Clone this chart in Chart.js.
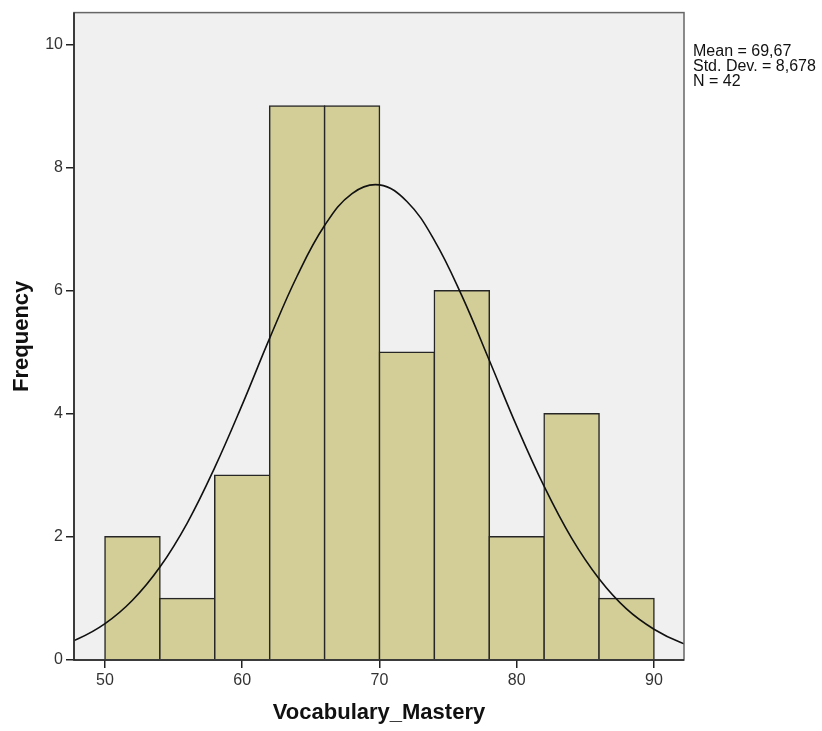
<!DOCTYPE html>
<html>
<head>
<meta charset="utf-8">
<script src="https://cdn.jsdelivr.net/npm/chart.js@4"></script>
<style>
  html, body { margin: 0; padding: 0; background: #fff; }
  #wrap { width: 822px; height: 731px; }
</style>
</head>
<body>
<div id="wrap"><canvas id="histo"></canvas></div>
<script>
// histogram bins (width 4)
const binCenters = [52, 56, 60, 64, 68, 72, 76, 80, 84, 88];
const binCounts = [2, 1, 3, 9, 9, 5, 6, 2, 4, 1];

// normal curve (ends run past the frame and get clipped)
const curveX = [46, 48, 50, 52, 54, 56, 58, 60, 62, 64, 66, 68, 70, 72, 74, 76, 78, 80, 82, 84, 86, 88, 90, 92, 94];
const curveY = [0.19, 0.34, 0.59, 0.97, 1.51, 2.23, 3.13, 4.15, 5.23, 6.24, 7.06, 7.58, 7.72, 7.45, 6.82, 5.92, 4.87, 3.80, 2.82, 1.98, 1.32, 0.83, 0.50, 0.28, 0.15];

const xTicks = [50, 60, 70, 80, 90];
const yTicks = [0, 2, 4, 6, 8, 10];
const statLines = ['Mean = 69,67', 'Std. Dev. = 8,678', 'N = 42'];

const font = "'Liberation Sans', Arial, sans-serif";

// plot background, frame and the stats text
const framePlugin = {
    id: 'frame',
    beforeDatasetsDraw(chart) {
        const { ctx, chartArea: a } = chart;
        ctx.save();
        ctx.fillStyle = '#f0f0f0';
        ctx.fillRect(a.left, a.top, a.right - a.left, a.bottom - a.top);
        ctx.restore();
    },
    afterDraw(chart) {
        const { ctx, chartArea: a } = chart;
        ctx.save();
        ctx.strokeStyle = '#666';
        ctx.lineWidth = 1.5;
        ctx.strokeRect(a.left, a.top, a.right - a.left, a.bottom - a.top);
        ctx.strokeStyle = '#222';
        ctx.beginPath();
        ctx.moveTo(a.left, a.top);
        ctx.lineTo(a.left, a.bottom);
        ctx.lineTo(a.right, a.bottom);
        ctx.stroke();

        ctx.fillStyle = '#111';
        ctx.font = '16px ' + font;
        ctx.textBaseline = 'middle';
        statLines.forEach((t, i) => ctx.fillText(t, a.right + 9, 52 + i * 15));
        ctx.restore();
    }
};

const ctx = document.getElementById('histo').getContext('2d');

new Chart(ctx, {
    data: {
        datasets: [{
            type: 'bar',
            data: binCenters.map((c, i) => ({ x: c, y: binCounts[i] })),
            backgroundColor: '#d3ce97',
            borderColor: '#262626',
            borderWidth: 1.5,
            inflateAmount: 0.8,
            barPercentage: 1,
            categoryPercentage: 1,
            order: 2
        }, {
            type: 'scatter',
            data: curveX.map((x, i) => ({ x: x, y: curveY[i] })),
            showLine: true,
            borderColor: '#111',
            borderWidth: 1.6,
            pointRadius: 0,
            tension: 0.4,
            order: 1
        }]
    },
    options: {
        responsive: true,
        maintainAspectRatio: false,
        animation: false,
        layout: { padding: { left: 0, right: 138, top: 12, bottom: 0 } },
        plugins: {
            legend: { display: false },
            tooltip: { enabled: false }
        },
        scales: {
            x: {
                type: 'linear',
                offset: false,
                min: 47.74,
                max: 92.19,
                afterBuildTicks: (scale) => { scale.ticks = xTicks.map(v => ({ value: v })); },
                afterFit: (scale) => { scale.height = 71; },
                grid: { offset: false, drawOnChartArea: false, tickLength: 8, color: '#222', lineWidth: 1.5 },
                border: { display: false },
                ticks: { color: '#333', font: { family: font, size: 16 }, padding: 3 },
                title: {
                    display: true,
                    text: 'Vocabulary_Mastery',
                    color: '#111',
                    font: { family: font, size: 22, weight: 'bold' },
                    padding: { top: 4, bottom: 5 }
                }
            },
            y: {
                min: 0,
                max: 10.52,
                afterBuildTicks: (scale) => { scale.ticks = yTicks.map(v => ({ value: v })); },
                afterFit: (scale) => { scale.width = 74; },
                grid: { drawOnChartArea: false, tickLength: 8, color: '#222', lineWidth: 1.5 },
                border: { display: false },
                ticks: { color: '#333', font: { family: font, size: 16 }, padding: 3 },
                title: {
                    display: true,
                    text: 'Frequency',
                    color: '#111',
                    font: { family: font, size: 22, weight: 'bold' },
                    padding: { bottom: 0, top: 9 }
                }
            }
        }
    },
    plugins: [framePlugin]
});
</script>
</body>
</html>
